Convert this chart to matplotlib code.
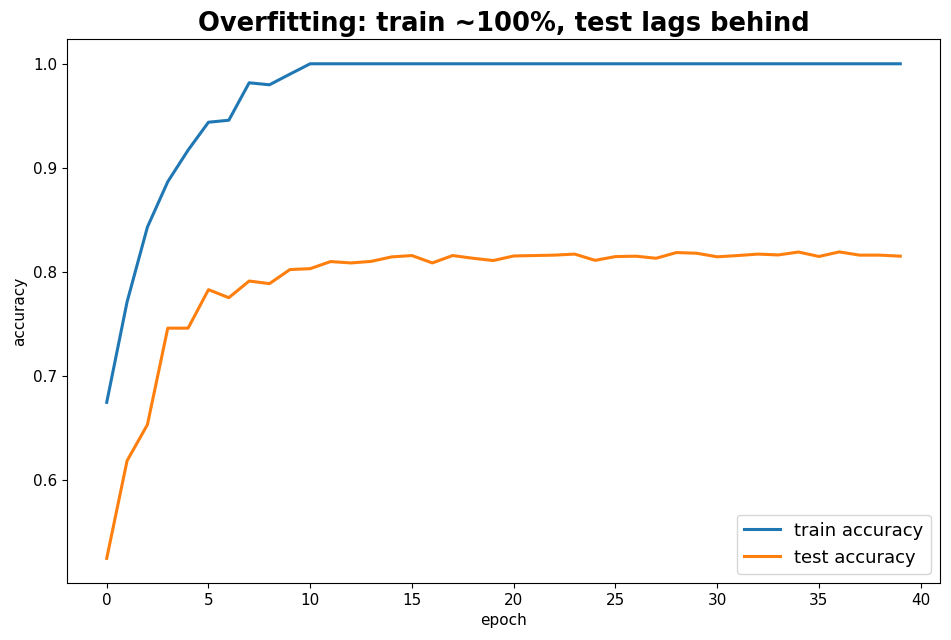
import matplotlib
matplotlib.use("Agg")
import matplotlib.pyplot as plt
import numpy as np

epochs = list(range(40))
train_acc = [0.6745, 0.771, 0.843, 0.8866, 0.917, 0.9438, 0.9457, 0.9817, 0.9798, 0.990,
             1.0, 1.0, 1.0, 1.0, 1.0, 1.0, 1.0, 1.0, 1.0, 1.0,
             1.0, 1.0, 1.0, 1.0, 1.0, 1.0, 1.0, 1.0, 1.0, 1.0,
             1.0, 1.0, 1.0, 1.0, 1.0, 1.0, 1.0, 1.0, 1.0, 1.0]
test_acc = [0.5245, 0.6183, 0.653, 0.7458, 0.7458, 0.7828, 0.7751, 0.7911, 0.7886, 0.8021,
            0.803, 0.8098, 0.8085, 0.810, 0.8143, 0.8156, 0.8085, 0.8156, 0.813, 0.8108,
            0.8152, 0.8156, 0.816, 0.817, 0.811, 0.8146, 0.815, 0.813, 0.8185, 0.8178,
            0.8144, 0.8156, 0.817, 0.8162, 0.819, 0.8147, 0.8191, 0.816, 0.816, 0.815]

fig = plt.figure(figsize=(9.51, 6.4), dpi=100)
ax = fig.add_axes([0.0705, 0.089, 0.9179, 0.850])
ax.plot(epochs, train_acc, color="#1f77b4", lw=2.2, label="train accuracy")
ax.plot(epochs, test_acc, color="#ff7f0e", lw=2.2, label="test accuracy")
ax.set_xlabel("epoch", fontsize=11)
ax.set_ylabel("accuracy", fontsize=11)
ax.tick_params(labelsize=11)
ax.set_title("Overfitting: train ~100%, test lags behind", fontsize=18.5, fontweight="bold")
ax.legend(loc="lower right", fontsize=13)
fig.savefig("out.png", dpi=100)
